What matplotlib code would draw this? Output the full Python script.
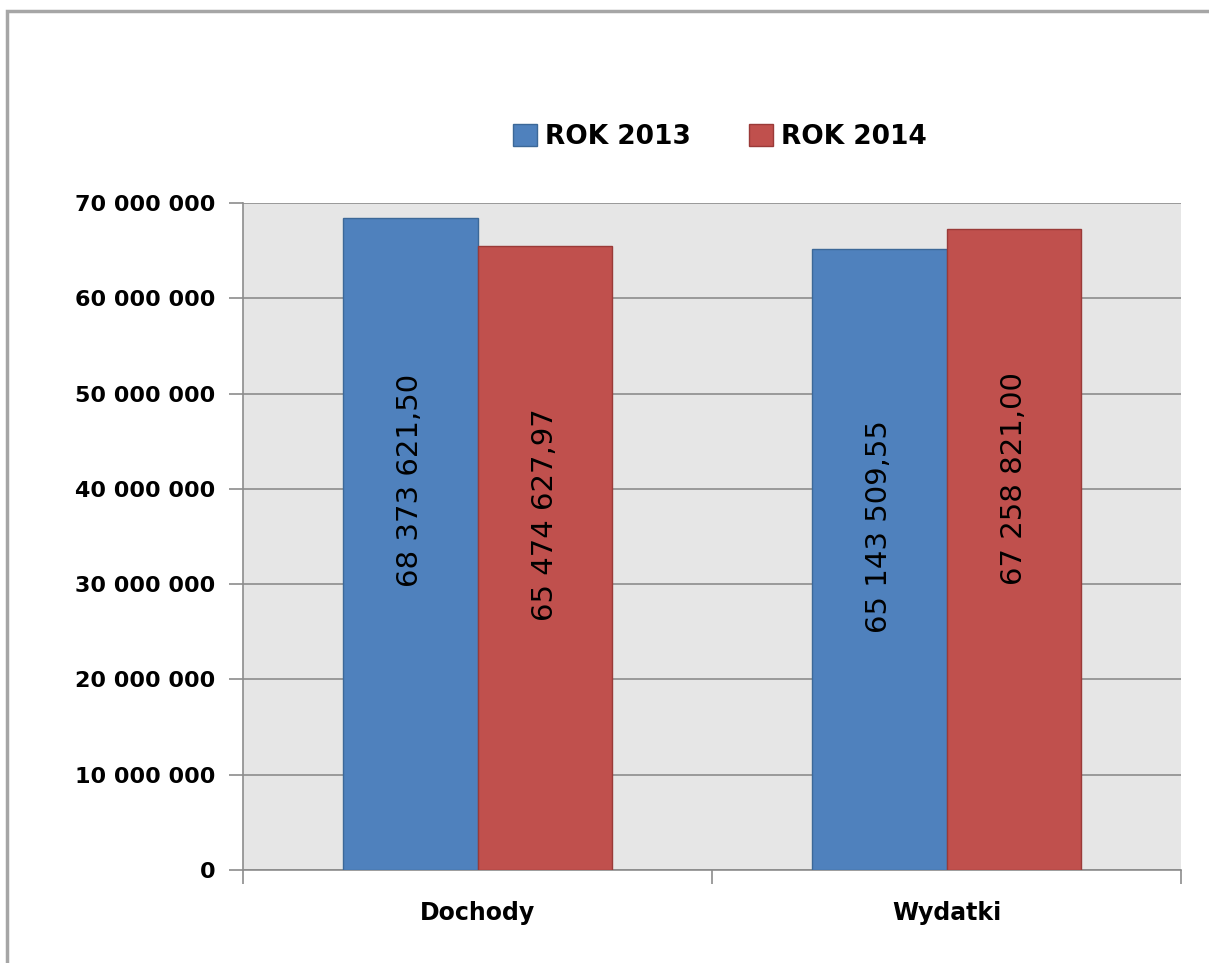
import numpy as np
import matplotlib
matplotlib.use('Agg')
import matplotlib.pyplot as plt
from matplotlib.patches import Rectangle
from matplotlib.ticker import FuncFormatter

# data
categories = ['Dochody', 'Wydatki']
series_names = ['ROK 2013', 'ROK 2014']
values_2013 = [68373621.50, 65143509.55]
values_2014 = [65474627.97, 67258821.00]
labels_2013 = ['68 373 621,50', '65 143 509,55']
labels_2014 = ['65 474 627,97', '67 258 821,00']
# where the rotated value labels sit (centre, in data units)
label_pos_2013 = [40.9e6, 36.0e6]
label_pos_2014 = [37.3e6, 41.1e6]
y_ticks = np.arange(0, 70000001, 10000000)

blue = '#4F81BD'
red = '#C0504D'
W, H = 1209, 963

fig = plt.figure(figsize=(W / 100, H / 100), dpi=100)
fig.patch.set_facecolor('white')

# outer chart border (cut off on the right and bottom)
fig.patches.append(Rectangle((7 / W, -0.1), 1.2, (H - 11) / H + 0.1,
                             transform=fig.transFigure, fill=False,
                             edgecolor='#A6A6A6', lw=2.5))

ax = fig.add_axes([243 / W, (H - 870) / H, (1181 - 243) / W, (870 - 203) / H])
ax.set_facecolor('#E6E6E6')

x = np.arange(len(categories))
w = 0.286
b1 = ax.bar(x - w / 2, values_2013, w, color=blue, edgecolor='#3C6898', lw=1, label=series_names[0], zorder=3)
b2 = ax.bar(x + w / 2, values_2014, w, color=red, edgecolor='#9A3A38', lw=1, label=series_names[1], zorder=3)

for i in range(len(categories)):
    ax.text(x[i] - w / 2, label_pos_2013[i], labels_2013[i], rotation=90, ha='center', va='center',
            fontsize=21, color='black', zorder=4)
    ax.text(x[i] + w / 2, label_pos_2014[i], labels_2014[i], rotation=90, ha='center', va='center',
            fontsize=21, color='black', zorder=4)

ax.set_xlim(-0.5, 1.5)
ax.set_ylim(0, 70000000)
ax.set_yticks(y_ticks)
ax.yaxis.set_major_formatter(FuncFormatter(lambda v, p: f"{int(v):,}".replace(',', ' ')))
ax.yaxis.grid(True, color='#8C8C8C', lw=1.2, zorder=1)
ax.set_axisbelow(True)

ax.set_xticks([-0.5, 0.5, 1.5])
ax.set_xticklabels([])
ax.set_xticks(x, minor=True)
ax.set_xticklabels(categories, minor=True, fontsize=17, fontweight='bold', family='DejaVu Sans')
ax.tick_params(axis='x', which='major', length=10, color='#8C8C8C', width=1.2, direction='out')
ax.tick_params(axis='x', which='minor', length=0, pad=22)
ax.tick_params(axis='y', length=10, color='#8C8C8C', width=1.2, direction='out', pad=10)
for lab in ax.get_yticklabels():
    lab.set_fontsize(16)
    lab.set_fontweight('bold')

for s in ['top', 'right']:
    ax.spines[s].set_visible(False)
for s in ['left', 'bottom']:
    ax.spines[s].set_color('#8C8C8C')
    ax.spines[s].set_linewidth(1.2)

leg = fig.legend(handles=[b1, b2], labels=series_names, loc='center', bbox_to_anchor=(720 / W, (H - 137) / H),
                 ncol=2, frameon=False, handlelength=0.9, handleheight=0.9, handletextpad=0.3,
                 columnspacing=2.2, prop={'size': 19, 'weight': 'bold'})

plt.savefig('out.png', dpi=100)
